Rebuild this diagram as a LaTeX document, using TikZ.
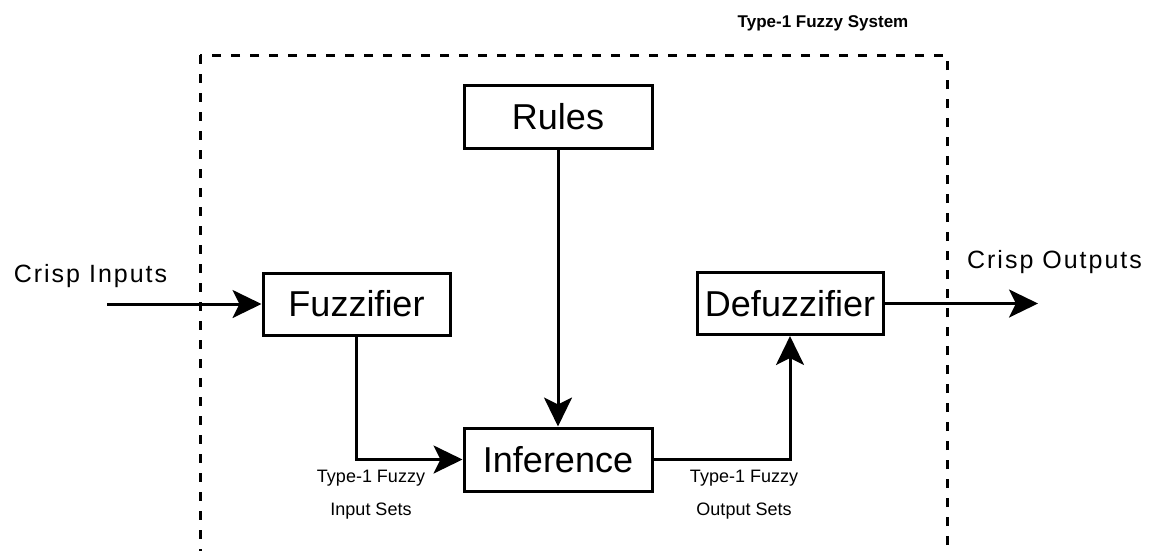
\documentclass[tikz,border=0pt]{standalone}
\usepackage{fontspec}
\setmainfont{Liberation Sans}
\newfontfamily\wideface[LetterSpace=8]{Liberation Sans}
\usetikzlibrary{arrows.meta}
\begin{document}
\begin{tikzpicture}[x=1pt,y=-1pt,
  block/.style={draw, line width=3pt, inner sep=0pt,
    minimum width=187pt, minimum height=62pt,
    font=\fontsize{36}{40}\selectfont},
  flow/.style={line width=3pt,
    -{Stealth[length=29pt,width=28pt,inset=7pt]}},
  io/.style={font=\wideface\fontsize{25}{28}\selectfont, inner sep=0pt},
  setlabel/.style={font=\fontsize{18}{33}\selectfont, align=center, inner sep=0pt},
  boundary/.style={line width=3pt, dash pattern=on 9pt off 10pt}]
  \useasboundingbox (0,0) rectangle (1150,550);
  \clip (0,0) rectangle (1150,550);

  % system boundary (runs past the lower edge)
  \draw[boundary] (200,55) rectangle (947,620);
  \node[font=\bfseries\fontsize{17}{20}\selectfont, inner sep=0pt] (title) at (823,23) {Type-1 Fuzzy System};

  % processing blocks
  \node[block, minimum width=188pt, minimum height=63pt] (rules) at (558,116.5) {Rules};
  \node[block] (fz) at (356.5,304) {Fuzzifier};
  \node[block, minimum width=188pt, minimum height=63pt] (inf) at (558,459.5) {Inference};
  \node[block, minimum width=186pt] (dfz) at (790,303.5) {Defuzzifier};

  % external signals
  \node[io] (cin) at (90.5,276) {Crisp Inputs};
  \node[io] (cout) at (1054.5,262) {Crisp Outputs};
  \coordinate (src) at (107,304);
  \coordinate (dst) at (1038,303.5);

  % fuzzy set labels
  \node[setlabel] (inset) at (371,494.5) {Type-1 Fuzzy\\Input Sets};
  \node[setlabel] (outset) at (744,494.5) {Type-1 Fuzzy\\Output Sets};

  % connections
  \draw[flow] (src) -- (fz.west);
  \draw[flow] (rules) -- (inf);
  \draw[flow] (fz.south) |- (inf.west);
  \draw[flow] (inf.east) -| (dfz.south);
  \draw[flow] (dfz.east) -- (dst);
\end{tikzpicture}
\end{document}
